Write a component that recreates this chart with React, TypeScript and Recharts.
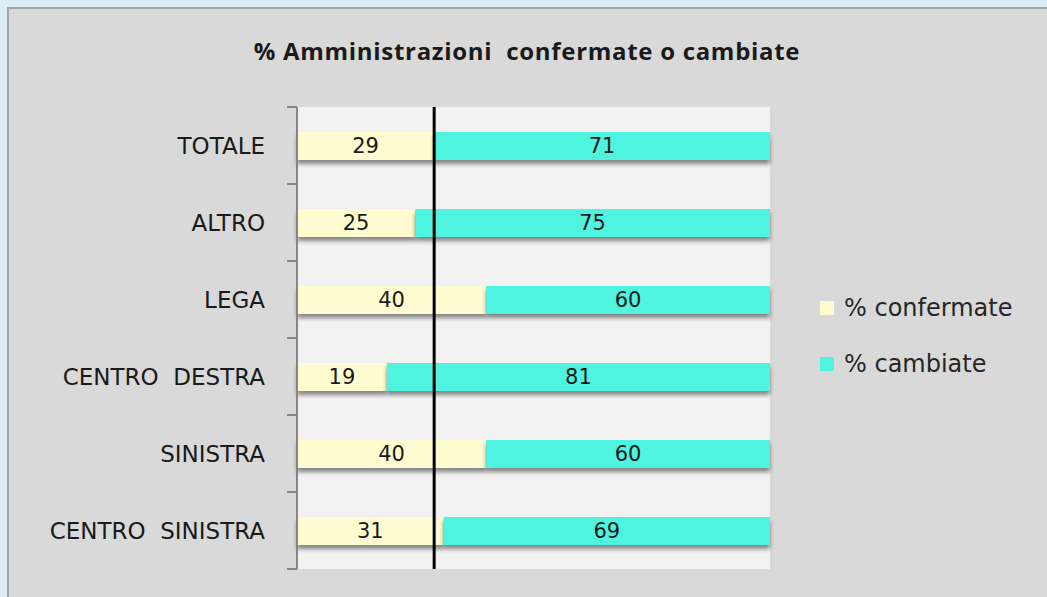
import React from "react";
import { BarChart, Bar, XAxis, YAxis, CartesianGrid, ReferenceLine, LabelList, Legend } from "recharts";

const categories = ["TOTALE", "ALTRO", "LEGA", "CENTRO  DESTRA", "SINISTRA", "CENTRO  SINISTRA"];
const confermate = [29, 25, 40, 19, 40, 31];
const cambiate = [71, 75, 60, 81, 60, 69];
const referenceValue = 29;

const seriesKeys = ["confermate", "cambiate"];
const seriesNames: Record<string, string> = { confermate: "% confermate", cambiate: "% cambiate" };
const colors: Record<string, string> = { confermate: "#fefcd0", cambiate: "#4ef4df" };

const W = 1047;
const H = 597;
const margin = { top: 107, right: 277, bottom: 28, left: 0 };
const AXIS_W = 297;
const band = (H - margin.top - margin.bottom) / categories.length;

const data = categories.map((name, i) => ({
  name,
  confermate: confermate[i],
  cambiate: cambiate[i],
}));

const labelFont = "'DejaVu Sans', sans-serif";

// category label plus excel-style ticks between bands
const CategoryTick = (props: any) => {
  const { x, y, payload, index } = props;
  const axisX = x + 32;
  return (
    <g>
      <text
        x={x}
        y={y}
        textAnchor="end"
        dominantBaseline="central"
        fill="#1a1a1a"
        fontSize={23}
        fontFamily={labelFont}
        style={{ whiteSpace: "pre" }}
      >
        {payload.value}
      </text>
      <line x1={axisX - 10} x2={axisX} y1={y - band / 2} y2={y - band / 2} stroke="#868686" strokeWidth={2} />
      {index === categories.length - 1 && (
        <line x1={axisX - 10} x2={axisX} y1={y + band / 2} y2={y + band / 2} stroke="#868686" strokeWidth={2} />
      )}
    </g>
  );
};

const ShadowBar = (props: any) => {
  const { x, y, width, height, fill } = props;
  return (
    <rect
      x={x}
      y={y}
      width={width}
      height={height}
      fill={fill}
      style={{ filter: "drop-shadow(0px 4px 2px rgba(0,0,0,0.45))" }}
    />
  );
};

const LegendContent = (props: any) => {
  const { payload } = props;
  const items = seriesKeys.map((k) => payload.find((p: any) => p.dataKey === k)).filter(Boolean);
  return (
    <div style={{ fontFamily: labelFont, fontSize: 24, color: "#262626" }}>
      {items.map((entry: any) => (
        <div key={entry.value} style={{ display: "flex", alignItems: "center", height: 28, marginBottom: 28 }}>
          <span style={{ width: 14, height: 14, background: entry.color, display: "inline-block", marginRight: 10 }} />
          <span>{entry.value}</span>
        </div>
      ))}
    </div>
  );
};

export default function App() {
  return (
    <div style={{ position: "absolute", left: 0, top: 0, width: W, height: H, background: "#dcedf5", overflow: "hidden" }}>
      <div
        style={{
          position: "absolute",
          left: 7,
          top: 7,
          width: W,
          height: H,
          background: "#d9d9d9",
          borderLeft: "2px solid #a6a6a6",
          borderTop: "2px solid #a6a6a6",
        }}
      />
      <div
        style={{
          position: "absolute",
          left: 0,
          top: 34,
          width: 1054,
          textAlign: "center",
          fontFamily: "'Open Sans', sans-serif",
          fontWeight: 700,
          fontSize: 24,
          letterSpacing: 0.7,
          color: "#1a1a1a",
          whiteSpace: "pre",
        }}
      >
        % Amministrazioni  confermate o cambiate
      </div>
      <div style={{ position: "absolute", left: 0, top: 0 }}>
        <BarChart width={W} height={H} data={data} layout="vertical" margin={margin} barSize={28}>
          <CartesianGrid fill="#f2f2f2" horizontal={false} vertical={false} />
          <XAxis type="number" domain={[0, 100]} hide />
          <YAxis
            type="category"
            dataKey="name"
            width={AXIS_W}
            tickSize={0}
            tickMargin={32}
            tick={<CategoryTick />}
            axisLine={{ stroke: "#868686", strokeWidth: 2 }}
            tickLine={false}
            interval={0}
          />
          <Legend
            verticalAlign="middle"
            layout="horizontal"
            wrapperStyle={{ left: 820, top: 294, width: 227 }}
            content={<LegendContent />}
          />
          <Bar dataKey="confermate" name={seriesNames.confermate} stackId="a" fill={colors.confermate} shape={<ShadowBar />} isAnimationActive={false}>
            <LabelList dataKey="confermate" position="center" fill="#1a1a1a" fontSize={21} fontFamily={labelFont} />
          </Bar>
          <Bar dataKey="cambiate" name={seriesNames.cambiate} stackId="a" fill={colors.cambiate} shape={<ShadowBar />} isAnimationActive={false}>
            <LabelList dataKey="cambiate" position="center" fill="#1a1a1a" fontSize={21} fontFamily={labelFont} />
          </Bar>
          <ReferenceLine x={referenceValue} stroke="#000000" strokeWidth={3} />
        </BarChart>
      </div>
    </div>
  );
}
